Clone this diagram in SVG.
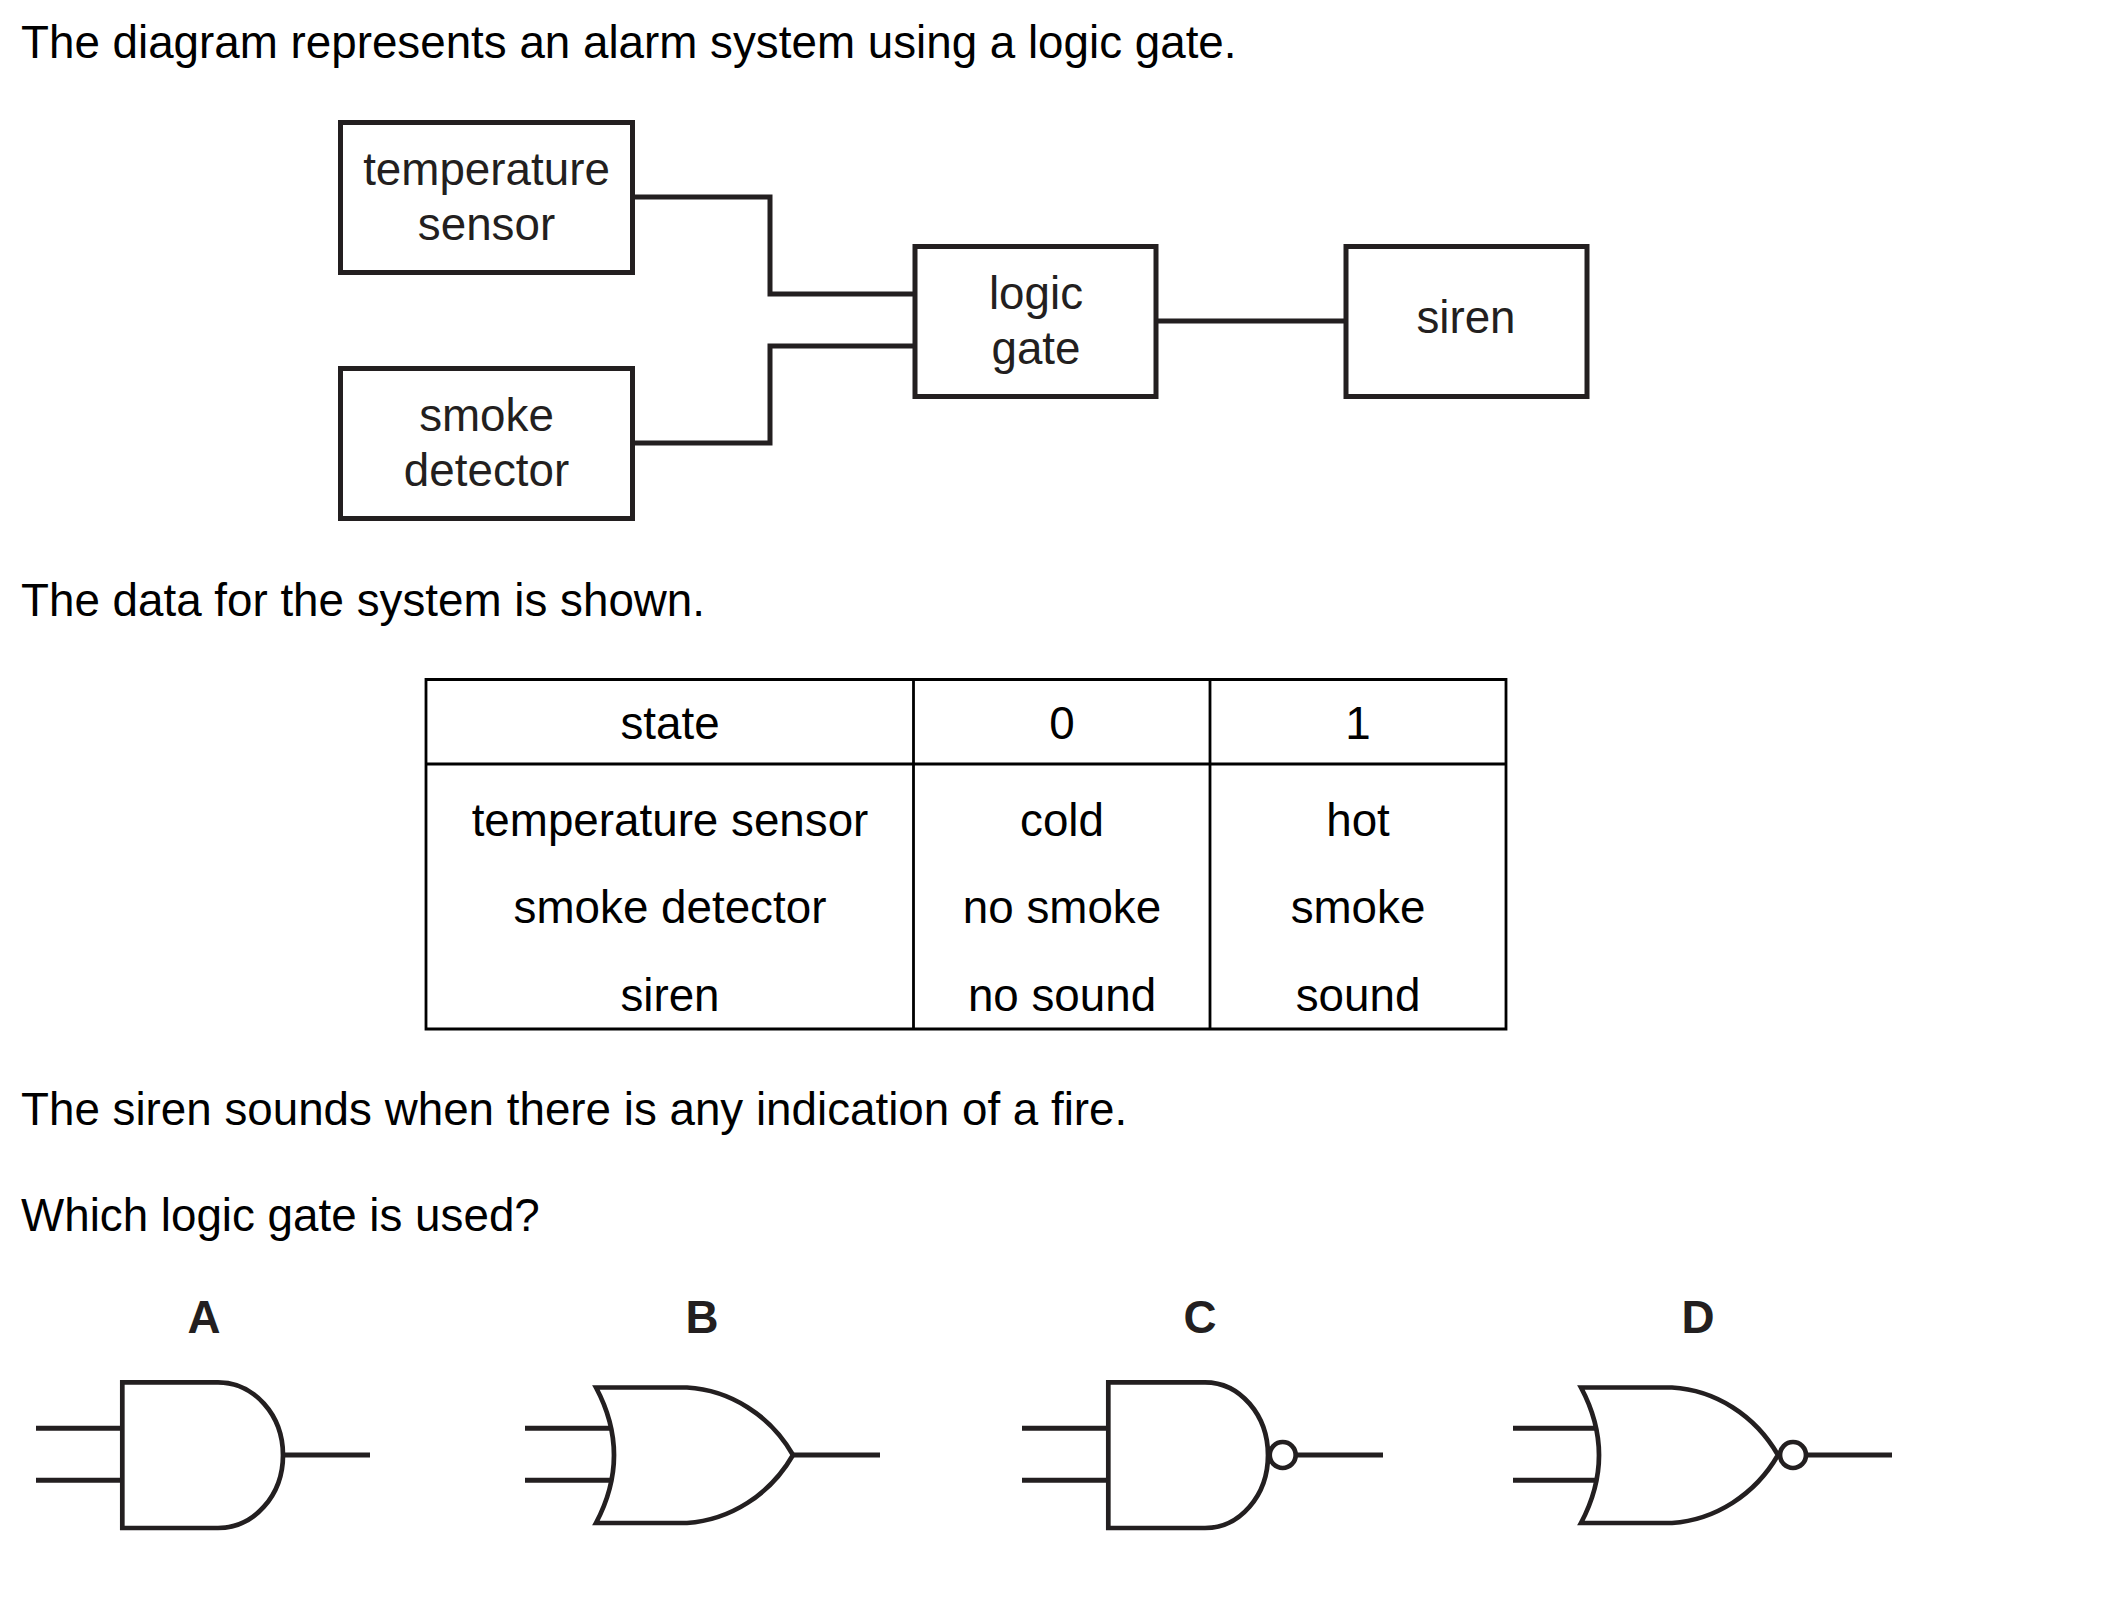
<svg xmlns="http://www.w3.org/2000/svg" width="2101" height="1599" viewBox="0 0 2101 1599">
<style>
text{font-family:"Liberation Sans",Arial,sans-serif;font-size:45.75px;fill:#000}
.d{fill:#231f20}
.m{text-anchor:middle}
.b{font-weight:bold;text-anchor:middle;fill:#231f20}
.box{fill:#fff;stroke:#231f20;stroke-width:5}
.w{fill:none;stroke:#231f20;stroke-width:5}
.g{fill:#fff;stroke:#231f20;stroke-width:4.7}
.t{fill:none;stroke:#000;stroke-width:2.8}
</style>
<rect width="2101" height="1599" fill="#fff"/>
<text x="21" y="58">The diagram represents an alarm system using a logic gate.</text>
<g id="connectors">
<path class="w" d="M633 197H770V294H917"/>
<path class="w" d="M633 443H770V346H917"/>
<path class="w" d="M1156 321H1349"/>
</g>
<g id="temperature-sensor"><rect class="box" x="340.5" y="122.5" width="292" height="150"/><text class="m d" x="486.5" y="184.5">temperature</text><text class="m d" x="486.5" y="239.5">sensor</text></g>
<g id="smoke-detector"><rect class="box" x="340.5" y="368.5" width="292" height="150"/><text class="m d" x="486.5" y="430.5">smoke</text><text class="m d" x="486.5" y="485.5">detector</text></g>
<g id="logic-gate"><rect class="box" x="915" y="246.5" width="241" height="150"/><text class="m d" x="1036" y="308.5">logic</text><text class="m d" x="1036" y="363.5">gate</text></g>
<g id="siren"><rect class="box" x="1346" y="246.5" width="241" height="150"/><text class="m d" x="1466" y="333">siren</text></g>
<text x="21" y="616">The data for the system is shown.</text>
<g id="table">
<path class="t" d="M426 679.5H1506V1029H426ZM913.5 679.5V1029M1210 679.5V1029M426 764H1506"/>
<text class="m" x="670" y="738.5">state</text><text class="m" x="1062" y="738.5">0</text><text class="m" x="1358" y="738.5">1</text>
<text class="m" x="670" y="835.5">temperature sensor</text><text class="m" x="1062" y="835.5">cold</text><text class="m" x="1358" y="835.5">hot</text>
<text class="m" x="670" y="922.5">smoke detector</text><text class="m" x="1062" y="922.5">no smoke</text><text class="m" x="1358" y="922.5">smoke</text>
<text class="m" x="670" y="1010.5">siren</text><text class="m" x="1062" y="1010.5">no sound</text><text class="m" x="1358" y="1010.5">sound</text>
</g>
<text x="21" y="1125">The siren sounds when there is any indication of a fire.</text>
<text x="21" y="1230.5">Which logic gate is used?</text>
<g id="gate-a"><text class="b" x="204" y="1333">A</text>
<path class="w" d="M36 1428.3H122M36 1480.3H122M283 1455H370"/>
<path class="g" d="M122.3 1382.3H218A65 72.85 0 0 1 218 1528H122.3Z"/></g>
<g id="gate-b"><text class="b" x="702" y="1333">B</text>
<path class="w" d="M525 1428.3H612M525 1480.3H612M793 1455H880"/>
<path class="g" d="M596 1387.5H687C730 1390 770 1415 793 1455C770 1495 730 1520 687 1523H596Q632 1455 596 1387.5Z"/></g>
<g id="gate-c"><text class="b" x="1200" y="1333">C</text>
<path class="w" d="M1022 1428.3H1108M1022 1480.3H1108M1295 1455H1383"/>
<path class="g" d="M1108.3 1382.3H1205A63 72.85 0 0 1 1205 1528H1108.3Z"/>
<circle class="g" cx="1282.7" cy="1455" r="13"/></g>
<g id="gate-d"><text class="b" x="1698" y="1333">D</text>
<path class="w" d="M1513 1428.3H1599M1513 1480.3H1599M1806 1455H1892"/>
<path class="g" d="M1581 1387.5H1672C1715 1390 1755 1415 1778 1455C1755 1495 1715 1520 1672 1523H1581Q1617 1455 1581 1387.5Z"/>
<circle class="g" cx="1793" cy="1455" r="13"/></g>
</svg>
